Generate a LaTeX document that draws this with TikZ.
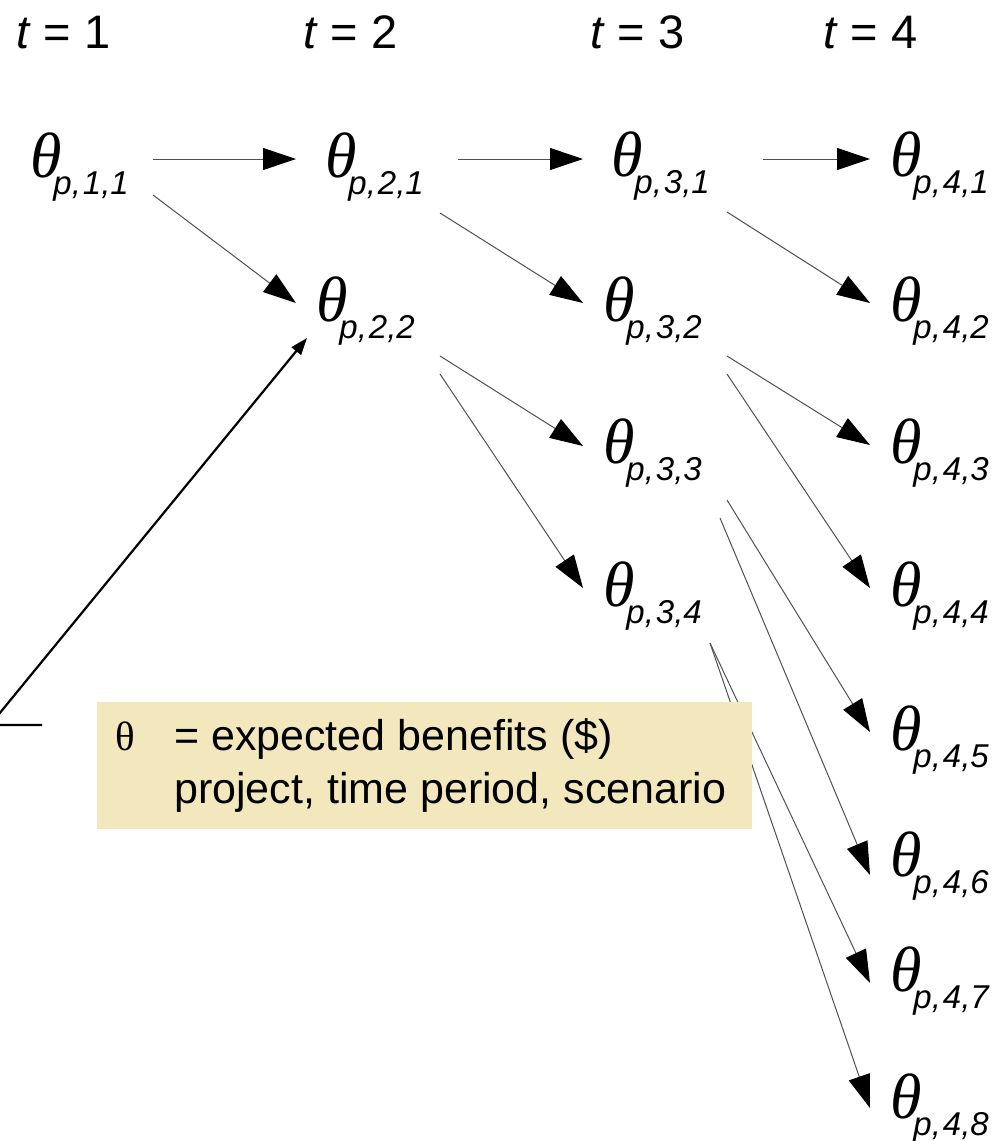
\documentclass[tikz,border=0pt]{standalone}
\usepackage{fontspec}
\setmainfont{Liberation Sans}
\newfontfamily\thfont{Liberation Serif}
\usetikzlibrary{arrows.meta}
\definecolor{legendfill}{RGB}{243,231,189}
\definecolor{edgegray}{RGB}{80,80,80}
\newcommand\thlabel[2]{{\thfont\itshape\fontsize{64}{64}\selectfont θ}\kern-8pt\raisebox{-17pt}{\fontsize{33}{33}\selectfont\itshape p,\kern2pt #1,#2}}
\tikzset{
  th/.style={anchor=base west, inner sep=0pt, outer sep=0pt},
  tlabel/.style={anchor=base west, inner sep=0pt, font=\fontsize{47}{47}\selectfont},
  legtext/.style={anchor=base west, inner sep=0pt, font=\fontsize{43}{43}\selectfont},
  arr/.style={draw=edgegray, line width=1pt, -{Triangle[length=33pt,width=22pt,color=black,fill=black]}},
  lead/.style={draw=black, line width=2.2pt, -{Triangle[length=17pt,width=12pt,color=black,fill=black]}},
}
\begin{document}
\begin{tikzpicture}[x=1pt,y=-1pt]
\useasboundingbox (0,0) rectangle (1002,1141);
\clip (0,0) rectangle (1002,1141);
% time labels
\node[tlabel] (t1) at (16,48) {\textit{t} = 1};
\node[tlabel] (t2) at (303,48) {\textit{t} = 2};
\node[tlabel] (t3) at (590,48) {\textit{t} = 3};
\node[tlabel] (t4) at (823,48) {\textit{t} = 4};
% scenario nodes
\node[th] (p11) at (30,177) {\thlabel{1}{1}};
\node[th] (p21) at (325,177) {\thlabel{2}{1}};
\node[th] (p22) at (316,321) {\thlabel{2}{2}};
\node[th] (p31) at (611,176) {\thlabel{3}{1}};
\node[th] (p32) at (603,321) {\thlabel{3}{2}};
\node[th] (p33) at (603,463) {\thlabel{3}{3}};
\node[th] (p34) at (603,606) {\thlabel{3}{4}};
\node[th] (p41) at (890,176) {\thlabel{4}{1}};
\node[th] (p42) at (890,321) {\thlabel{4}{2}};
\node[th] (p43) at (890,463) {\thlabel{4}{3}};
\node[th] (p44) at (890,606) {\thlabel{4}{4}};
\node[th] (p45) at (890,750) {\thlabel{4}{5}};
\node[th] (p46) at (890,876) {\thlabel{4}{6}};
\node[th] (p47) at (890,991) {\thlabel{4}{7}};
\node[th] (p48) at (890,1118) {\thlabel{4}{8}};
% tree connectors
\draw[arr] ([shift={(123,-18)}]p11.base west) -- ([shift={(-29,-18)}]p21.base west);
\draw[arr] ([shift={(123,18)}]p11.base west) -- ([shift={(-20,-18)}]p22.base west);
\draw[arr] ([shift={(133,-18)}]p21.base west) -- ([shift={(-28,-17)}]p31.base west);
\draw[arr] ([shift={(115,36)}]p21.base west) -- ([shift={(-20,-18)}]p32.base west);
\draw[arr] ([shift={(124,35)}]p22.base west) -- ([shift={(-20,-17)}]p33.base west);
\draw[arr] ([shift={(124,53)}]p22.base west) -- ([shift={(-20,-18)}]p34.base west);
\draw[arr] ([shift={(152,-17)}]p31.base west) -- ([shift={(-20,-17)}]p41.base west);
\draw[arr] ([shift={(116,36)}]p31.base west) -- ([shift={(-20,-18)}]p42.base west);
\draw[arr] ([shift={(124,35)}]p32.base west) -- ([shift={(-20,-18)}]p43.base west);
\draw[arr] ([shift={(124,53)}]p32.base west) -- ([shift={(-20,-18)}]p44.base west);
\draw[arr] ([shift={(124,37)}]p33.base west) -- ([shift={(-20,-18)}]p45.base west);
\draw[arr] ([shift={(117,55)}]p33.base west) -- ([shift={(-20,-1)}]p46.base west);
\draw[arr] ([shift={(107,37)}]p34.base west) -- ([shift={(-20,-8)}]p47.base west);
\draw[arr] ([shift={(107,37)}]p34.base west) -- ([shift={(-20,-10)}]p48.base west);
% legend
\node[fill=legendfill, draw=none, inner sep=0pt, anchor=north west, minimum width=655pt, minimum height=127pt] (legend) at (97,702) {};
\node[anchor=base west, inner sep=0pt, font=\thfont\fontsize{41}{41}\selectfont] (legtheta) at (115,750) {θ};
\node[legtext] (legl1) at (174,750) {= expected benefits (\$)};
\node[legtext] (legl2) at (174,803) {project, time period, scenario};
% leader
\coordinate (elbow) at (-10,725);
\coordinate (leadend) at (42,725);
\draw[lead] (leadend) -- (elbow) -- ([shift={(-9,17)}]p22.base west);
\end{tikzpicture}
\end{document}
